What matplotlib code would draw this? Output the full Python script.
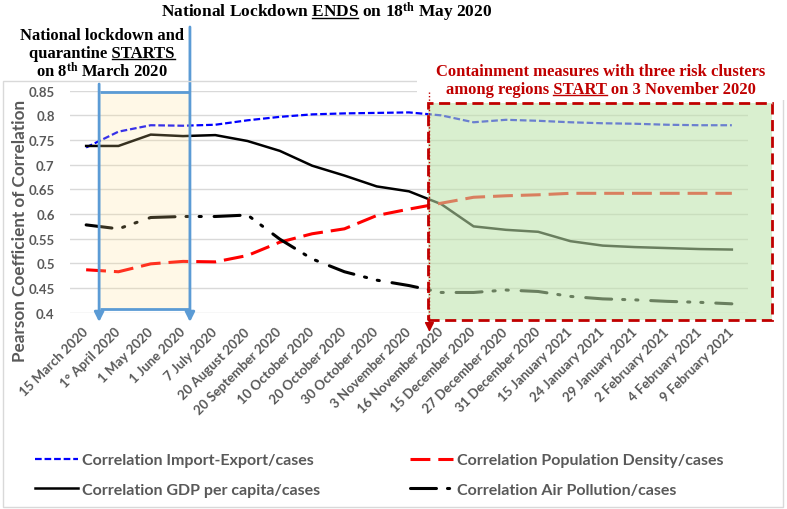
import numpy as np
import matplotlib
matplotlib.use('Agg')
import matplotlib.pyplot as plt
from matplotlib.patches import Rectangle
from matplotlib.lines import Line2D

# ---------------- data ----------------
dates = ['15 March 2020', '1° April 2020', '1 May 2020', '1 June 2020', '7 July 2020',
         '20 August 2020', '20 September 2020', '10 October 2020', '20 October 2020',
         '30 October 2020', '3 November 2020', '16 November 2020', '15 December 2020',
         '27 December 2020', '31 December 2020', '15 January 2021', '24 January 2021',
         '29 January 2021', '2 February 2021', '4 February 2021', '9 February 2021']
import_export = [0.735, 0.767, 0.780, 0.779, 0.781, 0.790, 0.797, 0.802, 0.804, 0.805, 0.806,
                 0.800, 0.786, 0.791, 0.789, 0.786, 0.784, 0.783, 0.781, 0.780, 0.780]
gdp = [0.738, 0.738, 0.761, 0.758, 0.760, 0.748, 0.728, 0.698, 0.678, 0.656, 0.646,
       0.620, 0.575, 0.568, 0.564, 0.545, 0.536, 0.533, 0.531, 0.529, 0.528]
pop_density = [0.487, 0.483, 0.499, 0.504, 0.503, 0.516, 0.543, 0.560, 0.570, 0.597, 0.610,
               0.622, 0.634, 0.637, 0.639, 0.642, 0.642, 0.642, 0.642, 0.642, 0.642]
air_pollution = [0.578, 0.570, 0.593, 0.595, 0.595, 0.598, 0.549, 0.509, 0.483, 0.466, 0.455,
                 0.441, 0.441, 0.446, 0.443, 0.433, 0.428, 0.426, 0.423, 0.421, 0.418]
yticks = [0.4, 0.45, 0.5, 0.55, 0.6, 0.65, 0.7, 0.75, 0.8, 0.85]

GRAY = '#595959'
SANS = 'Lato'
SERIF = 'Liberation Serif'

plt.rcParams['mathtext.fontset'] = 'custom'
plt.rcParams['mathtext.rm'] = 'Liberation Serif:bold'
plt.rcParams['mathtext.bf'] = 'Liberation Serif:bold'
plt.rcParams['mathtext.it'] = 'Liberation Serif:bold:italic'

W, H = 787, 510
fig = plt.figure(figsize=(W / 100, H / 100), dpi=100)
ax = fig.add_axes([70 / W, 1 - 313.7 / H, 678 / W, 222 / H])


# pixel helpers for the annotation shapes (figure and data coordinates)
def fx(px):
    return px / W


def fy(py):
    return 1 - py / H


def dx(px):
    return (px - 86) / 32.35


def dy(py):
    return 0.4 + (313.7 - py) / 493.3


x = np.arange(len(dates))
l_ie, = ax.plot(x, import_export, color='#0000ff', lw=1.6, dashes=(3, 1.3), zorder=3,
                label='Correlation Import-Export/cases')
l_gdp, = ax.plot(x, gdp, color='black', lw=1.8, zorder=3, label='Correlation GDP per capita/cases')
l_pop, = ax.plot(x, pop_density, color='#ff0000', lw=2.2, dashes=(6.5, 2.6), zorder=3,
                 label='Correlation Population Density/cases')
l_air, = ax.plot(x, air_pollution, color='black', lw=2.2, dashes=(8.5, 3.6, 0.7, 3.6, 0.7, 4.2),
                 dash_capstyle='round', zorder=3, label='Correlation Air Pollution/cases')

ax.set_xlim(-0.5, len(dates) - 0.5)
ax.set_ylim(0.4, 0.85)
ax.set_yticks(yticks)
ax.set_yticklabels(['%g' % v for v in yticks])
ax.set_xticks(x)
ax.set_xticklabels(dates, rotation=45, ha='right', va='center', rotation_mode='anchor')
ax.tick_params(length=0, labelcolor=GRAY)
ax.tick_params(axis='y', pad=11)
ax.tick_params(axis='x', pad=12)
for lab in ax.get_xticklabels() + ax.get_yticklabels():
    lab.set_fontfamily(SANS)
    lab.set_fontweight('bold')
    lab.set_fontsize(9.5)
ax.yaxis.grid(True, color='#d9d9d9', lw=1)
ax.set_axisbelow(True)
for s in ax.spines.values():
    s.set_visible(False)
ax.set_ylabel('Pearson Coefficient of Correlation', fontfamily=SANS, fontweight='bold',
              fontsize=12.3, color=GRAY)
ax.yaxis.set_label_coords(-0.062, 0.372)

# lockdown box (yellow) with blue arrows
ax.add_patch(Rectangle((dx(100), dy(310)), dx(190) - dx(100), dy(93) - dy(310),
                       facecolor='#ffe294', alpha=0.22, edgecolor='none', zorder=4))
for yy in (93, 310):
    ax.plot([dx(100), dx(190)], [dy(yy), dy(yy)], color='#5b9bd5', lw=2, zorder=5,
            solid_capstyle='butt')
for xx, top in ((99, 85), (190, 28)):
    ax.annotate('', xy=(dx(xx), dy(323)), xytext=(dx(xx), dy(top)),
                arrowprops=dict(arrowstyle='-|>', color='#5b9bd5', lw=2, mutation_scale=14,
                                shrinkA=0, shrinkB=0),
                annotation_clip=False, zorder=5)

# containment box (green, dashed red)
ax.add_patch(Rectangle((dx(429), dy(321)), dx(773) - dx(429), dy(104) - dy(321),
                       facecolor='#bde3aa', alpha=0.565, edgecolor='none', zorder=6,
                       clip_on=False))
ax.add_patch(Rectangle((dx(429), dy(321)), dx(773) - dx(429), dy(104) - dy(321),
                       facecolor='none', edgecolor='#c00000', lw=2, ls=(0, (4, 2)), zorder=7,
                       clip_on=False))
ax.annotate('', xy=(dx(430), dy(333)), xytext=(dx(430), dy(318)),
            arrowprops=dict(arrowstyle='-|>', color='#c00000', lw=1, mutation_scale=14,
                            shrinkA=0, shrinkB=0),
            annotation_clip=False, zorder=8)

# chart border and white text backgrounds
fig.add_artist(Rectangle((fx(3), fy(508)), fx(783) - fx(3), (508 - 82) / H,
                         transform=fig.transFigure, facecolor='none', edgecolor='#d9d9d9',
                         lw=1, zorder=1))
fig.add_artist(Rectangle((fx(417), fy(101)), fx(785) - fx(417), (101 - 58) / H,
                         transform=fig.transFigure, facecolor='white', edgecolor='none',
                         zorder=2))
fig.add_artist(Line2D([dx(430), dx(430)], [dy(93), dy(320)], transform=ax.transData,
                      color='#c00000', lw=1, ls=(0, (1, 1.5)), zorder=3))

# texts with underlined words
renderer = fig.canvas.get_renderer()


def text_width(s, fp):
    t = fig.text(0, 0, s, fontproperties=fp)
    w = t.get_window_extent(renderer).width
    t.remove()
    return w


def rich_text(cx, base, s, color, size, under=None):
    t = fig.text(fx(cx), fy(base), s, ha='center', va='baseline', color=color,
                 fontfamily=SERIF, fontweight='bold', fontsize=size, zorder=4)
    if under:
        fp = t.get_fontproperties()
        left = t.get_window_extent(renderer).x0
        i = s.index(under)
        end = left + text_width(s[:i + len(under)], fp)
        start = end - text_width(under, fp)
        fig.add_artist(Line2D([start / W, end / W], [fy(base + 2), fy(base + 2)],
                              transform=fig.transFigure, color=color, lw=1, zorder=4))
    return t


rich_text(327, 17, r'National Lockdown ENDS on 18$^{\mathrm{th}}$ May 2020', 'black', 12.5,
          under='ENDS')
rich_text(102, 40, 'National lockdown and', 'black', 12)
rich_text(102, 58, 'quarantine STARTS', 'black', 12, under='STARTS')
rich_text(102, 77, r'on 8$^{\mathrm{th}}$ March 2020', 'black', 12)
rich_text(601, 76, 'Containment measures with three risk clusters', '#c00000', 12)
rich_text(601, 94, 'among regions START on 3 November 2020', '#c00000', 12, under='START')

fig.legend(handles=[l_ie, l_gdp, l_pop, l_air], loc='upper left',
           bbox_to_anchor=(fx(35), fy(454)), ncol=2, frameon=False,
           prop=dict(family=SANS, weight='bold', size=11.5), labelcolor=GRAY,
           handlelength=2.7, handletextpad=0.25, columnspacing=5.6, labelspacing=0.95,
           borderpad=0, borderaxespad=0)

fig.savefig('out.png', dpi=100)
